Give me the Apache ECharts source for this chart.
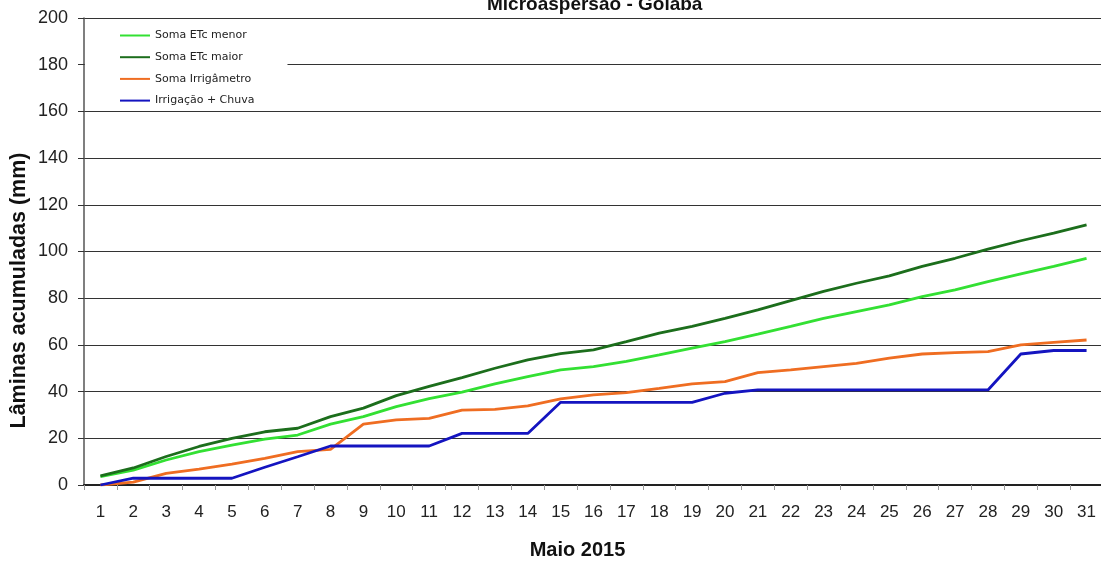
<!DOCTYPE html>
<html>
<head>
<meta charset="utf-8">
<script src="https://cdn.jsdelivr.net/npm/echarts@6/dist/echarts.min.js"></script>
<style>
html,body{margin:0;padding:0;background:#fff;}
#chart{width:1101px;height:564px;}
</style>
</head>
<body>
<div id="chart"></div>
<script>
var days = ['1','2','3','4','5','6','7','8','9','10','11','12','13','14','15','16','17','18','19','20','21','22','23','24','25','26','27','28','29','30','31'];
var somaEtcMenor = [3.6,6.4,10.7,14.3,17.1,19.6,21.4,26.1,29.3,33.6,37.0,39.8,43.3,46.4,49.3,50.7,52.9,55.7,58.6,61.4,64.6,67.9,71.4,74.3,77.1,80.7,83.6,87.1,90.4,93.6,97.1];
var somaEtcMaior = [3.9,7.3,12.2,16.5,20.0,22.8,24.3,29.3,32.9,38.3,42.2,46.0,50.0,53.6,56.3,57.9,61.4,65.0,67.9,71.4,75.0,79.0,82.9,86.4,89.6,93.6,97.1,101.0,104.6,107.9,111.4];
var somaIrrigametro = [0,1.2,5.0,6.8,8.9,11.4,14.3,15.3,26.1,27.9,28.5,32.1,32.4,33.9,36.9,38.6,39.6,41.4,43.3,44.3,48.1,49.3,50.7,52.1,54.3,56.1,56.7,57.1,60.0,61.1,62.1];
var irrigacaoChuva = [0,2.9,2.9,2.9,2.9,7.6,12.1,16.7,16.7,16.7,16.7,22.1,22.1,22.1,35.4,35.4,35.4,35.4,35.4,39.3,40.7,40.7,40.7,40.7,40.7,40.7,40.7,40.7,56.1,57.6,57.6];
var yTicks = {min:0, max:200, interval:20};

var chart = echarts.init(document.getElementById('chart'), null, {renderer:'canvas'});
var font = 'Liberation Sans, Arial, sans-serif';
function mk(name, data, color){
  return {name:name, type:'line', data:data, symbol:'none', smooth:false,
    lineStyle:{color:color, width:2.8}, itemStyle:{color:color}, z:3};
}
chart.setOption({
  animation:false,
  backgroundColor:'#ffffff',
  title:{text:'Microaspersão - Goiaba', left:482, top:-10,
    textStyle:{fontFamily:font, fontSize:19, fontWeight:'bold', color:'#111'}},
  legend:{orient:'vertical', left:85, top:19, padding:[10,33,4,35], itemGap:8.7,
    itemWidth:30, itemHeight:2, icon:'rect', backgroundColor:'#ffffff',
    textStyle:{fontFamily:'DejaVu Sans, sans-serif', fontSize:11, lineHeight:13, color:'#222', padding:[0,0,0,0]},
    data:['Soma ETc menor','Soma ETc maior','Soma Irrigâmetro','Irrigação + Chuva']},
  grid:{left:84, top:18, width:1019, height:467, containLabel:false, outerBoundsMode:'none'},
  xAxis:{type:'category', data:days, boundaryGap:true,
    name:'Maio 2015', nameLocation:'middle', nameGap:55, nameMoveOverlap:false,
    nameTextStyle:{fontFamily:font, fontSize:20, fontWeight:'bold', color:'#111', padding:[0,32,0,0]},
    axisLine:{lineStyle:{color:'#222', width:2}},
    axisTick:{show:true, alignWithLabel:false, length:5, lineStyle:{color:'#999'}},
    axisLabel:{interval:0, margin:19, fontFamily:font, fontSize:17, color:'#222'}},
  yAxis:{type:'value', min:yTicks.min, max:yTicks.max, interval:yTicks.interval,
    name:'Lâminas acumuladas (mm)', nameLocation:'middle', nameGap:54, nameMoveOverlap:false,
    nameTextStyle:{fontFamily:font, fontSize:21.5, fontWeight:'bold', color:'#111', padding:[0,78,0,0]},
    axisLine:{show:true, lineStyle:{color:'#555', width:1.5}},
    axisTick:{show:true, inside:false, length:6, lineStyle:{color:'#333'}},
    axisLabel:{margin:16, fontFamily:font, fontSize:18, color:'#222'},
    splitLine:{show:true, lineStyle:{color:'#333', width:1}}},
  series:[
    mk('Soma ETc menor', somaEtcMenor, '#33e033'),
    mk('Soma ETc maior', somaEtcMaior, '#1c6e1c'),
    mk('Soma Irrigâmetro', somaIrrigametro, '#ef6d22'),
    mk('Irrigação + Chuva', irrigacaoChuva, '#1414c0')
  ]
});
</script>
</body>
</html>
